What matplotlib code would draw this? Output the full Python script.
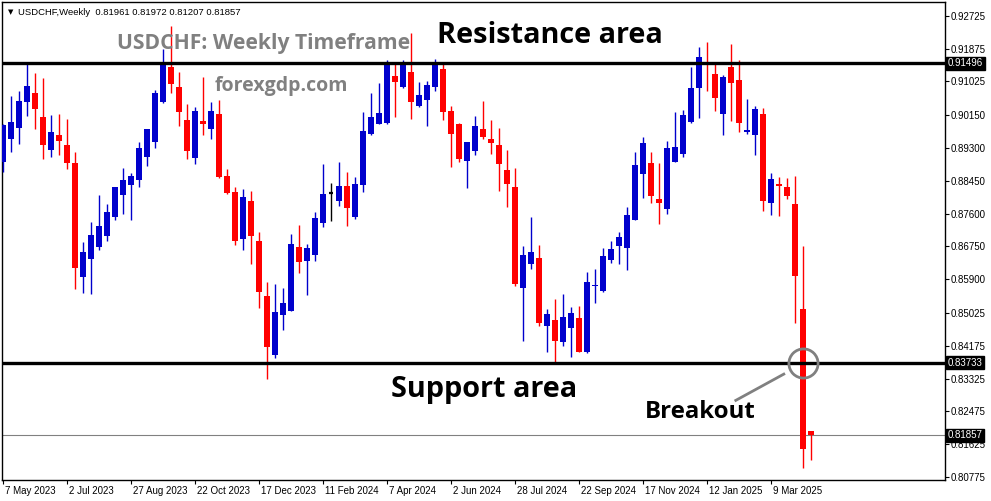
import matplotlib
matplotlib.use("Agg")
import matplotlib.pyplot as plt
import matplotlib.transforms as mtransforms

# weekly USDCHF candles, 7 May 2023 .. 13 Apr 2025
opens = [0.8894, 0.8953, 0.8982, 0.9050, 0.9073, 0.9011, 0.8925, 0.8964, 0.8938, 0.8891,
         0.8596, 0.8643, 0.8674, 0.8702, 0.8752, 0.8809, 0.8835, 0.8848, 0.8907, 0.8946,
         0.9049, 0.9139, 0.9088, 0.9002, 0.8905, 0.9000, 0.8980, 0.9018, 0.8857, 0.8816,
         0.8695, 0.8793, 0.8689, 0.8546, 0.8394, 0.8498, 0.8508, 0.8673, 0.8638, 0.8653,
         0.8736, 0.8812, 0.8793, 0.8831, 0.8752, 0.8835, 0.8966, 0.8993, 0.8995, 0.9117,
         0.9089, 0.9127, 0.9039, 0.9054, 0.9089, 0.9134, 0.9026, 0.8992, 0.8897, 0.8923,
         0.8979, 0.8953, 0.8938, 0.8873, 0.8829, 0.8568, 0.8630, 0.8645, 0.8469, 0.8484,
         0.8428, 0.8464, 0.8489, 0.8400, 0.8571, 0.8560, 0.8640, 0.8677, 0.8672, 0.8744,
         0.8863, 0.8891, 0.8798, 0.8773, 0.8894, 0.8915, 0.8998, 0.9086, 0.9152, 0.9122,
         0.9019, 0.9140, 0.9106, 0.8972, 0.8964, 0.9018, 0.8786, 0.8837, 0.8830, 0.8785,
         0.8513, 0.81961]
highs = [0.8992, 0.9065, 0.9077, 0.9149, 0.9123, 0.9112, 0.9015, 0.9018, 0.9005, 0.8919,
         0.8687, 0.8739, 0.8808, 0.8785, 0.8830, 0.8878, 0.8865, 0.8945, 0.8980, 0.9080,
         0.9186, 0.9246, 0.9127, 0.9044, 0.9036, 0.9114, 0.9049, 0.9054, 0.8875, 0.8829,
         0.8824, 0.8818, 0.8712, 0.8583, 0.8577, 0.8567, 0.8707, 0.8730, 0.8681, 0.8764,
         0.8888, 0.8839, 0.8894, 0.8868, 0.8855, 0.9023, 0.9072, 0.9098, 0.9158, 0.9150,
         0.9158, 0.9228, 0.9101, 0.9103, 0.9160, 0.9150, 0.9039, 0.8995, 0.8946, 0.9013,
         0.9052, 0.9002, 0.8982, 0.8925, 0.8878, 0.8676, 0.8752, 0.8679, 0.8513, 0.8539,
         0.8552, 0.8519, 0.8520, 0.8609, 0.8616, 0.8671, 0.8689, 0.8712, 0.8777, 0.8919,
         0.8958, 0.8919, 0.8891, 0.8948, 0.9023, 0.9028, 0.9140, 0.9191, 0.9204, 0.9150,
         0.9119, 0.9199, 0.9158, 0.9057, 0.9039, 0.9033, 0.8865, 0.8855, 0.8853, 0.8857,
         0.8676, 0.81972]
lows = [0.8868, 0.8920, 0.8940, 0.9013, 0.8979, 0.8901, 0.8907, 0.8912, 0.8875, 0.8565,
        0.8555, 0.8552, 0.8666, 0.8690, 0.8743, 0.8759, 0.8743, 0.8830, 0.8883, 0.8931,
        0.9047, 0.9073, 0.8988, 0.8902, 0.8889, 0.8964, 0.8954, 0.8853, 0.8811, 0.8679,
        0.8666, 0.8630, 0.8514, 0.8332, 0.8387, 0.8459, 0.8507, 0.8607, 0.8550, 0.8638,
        0.8726, 0.8741, 0.8780, 0.8729, 0.8747, 0.8817, 0.8964, 0.8992, 0.8992, 0.9011,
        0.9086, 0.9006, 0.9036, 0.8987, 0.9078, 0.9002, 0.8881, 0.8894, 0.8827, 0.8912,
        0.8954, 0.8915, 0.8819, 0.8778, 0.8573, 0.8431, 0.8617, 0.8469, 0.8400, 0.8376,
        0.8418, 0.8389, 0.8402, 0.8399, 0.8529, 0.8558, 0.8633, 0.8630, 0.8615, 0.8744,
        0.8801, 0.8786, 0.8734, 0.8760, 0.8894, 0.8907, 0.8995, 0.9008, 0.9078, 0.9026,
        0.8964, 0.9001, 0.8972, 0.8967, 0.8912, 0.8767, 0.8757, 0.8754, 0.8798, 0.8477,
        0.8100, 0.81207]
closes = [0.8989, 0.8998, 0.9052, 0.9090, 0.9031, 0.8938, 0.8971, 0.8949, 0.8892, 0.8619,
          0.8660, 0.8704, 0.8728, 0.8764, 0.8829, 0.8847, 0.8857, 0.8930, 0.8979, 0.9072,
          0.9149, 0.9096, 0.9024, 0.8923, 0.9026, 0.8993, 0.9026, 0.8855, 0.8814, 0.8690,
          0.8803, 0.8703, 0.8558, 0.8415, 0.8505, 0.8528, 0.8681, 0.8635, 0.8671, 0.8748,
          0.8811, 0.8812, 0.8831, 0.8775, 0.8837, 0.8974, 0.9010, 0.9021, 0.9153, 0.9102,
          0.9145, 0.9050, 0.9067, 0.9093, 0.9150, 0.9022, 0.8967, 0.8902, 0.8945, 0.8987,
          0.8957, 0.8944, 0.8889, 0.8837, 0.8577, 0.8653, 0.8660, 0.8477, 0.8500, 0.8431,
          0.8492, 0.8502, 0.8402, 0.8583, 0.8575, 0.8650, 0.8668, 0.8699, 0.8756, 0.8886,
          0.8943, 0.8806, 0.8786, 0.8930, 0.8932, 0.9015, 0.9085, 0.9166, 0.9147, 0.9060,
          0.9114, 0.9099, 0.8995, 0.8977, 0.9031, 0.8793, 0.8850, 0.8832, 0.8806, 0.8599,
          0.8149, 0.81857]

date_labels = ["7 May 2023", "2 Jul 2023", "27 Aug 2023", "22 Oct 2023", "17 Dec 2023",
               "11 Feb 2024", "7 Apr 2024", "2 Jun 2024", "28 Jul 2024", "22 Sep 2024",
               "17 Nov 2024", "12 Jan 2025", "9 Mar 2025"]
price_ticks = [0.92725, 0.91875, 0.91025, 0.90150, 0.89300, 0.88450, 0.87600, 0.86750,
               0.85900, 0.85025, 0.84175, 0.83325, 0.82475, 0.81625, 0.80775]
resistance = 0.91496
support = 0.83733
last_price = 0.81857

BLUE = "#0000CC"
RED = "#FF0000"
GREY = "#808080"

fig = plt.figure(figsize=(9.91, 5.01), dpi=100)
ax = fig.add_axes([2 / 991, 21 / 501, 943 / 991, 478 / 501])

n = len(opens)
xs = list(range(n))
for i in xs:
    o, h, l, c = opens[i], highs[i], lows[i], closes[i]
    if c > o:
        col = BLUE
    elif c < o:
        col = RED
    else:
        col = "black"
    ax.vlines(i, l, h, color=col, lw=1.0, zorder=3)
    body = abs(c - o)
    if body < 0.0003:
        ax.hlines((o + c) / 2, i - 0.31, i + 0.31, color=col, lw=1.6, zorder=3)
    else:
        ax.bar(i, body, bottom=min(o, c), width=0.65, color=col, lw=0, zorder=3)

ax.axhline(resistance, color="black", lw=2.4, zorder=4)
ax.axhline(support, color="black", lw=2.4, zorder=4)
ax.axhline(last_price, color=GREY, lw=0.8, zorder=2)

ax.set_xlim(-0.125, 117.75)
ax.set_ylim(0.80697, 0.93080)

ax.yaxis.tick_right()
ax.set_yticks(price_ticks)
ax.set_yticklabels([f"{v:.5f}" for v in price_ticks])
ax.set_xticks(list(range(0, n, 8)))
ax.set_xticklabels(date_labels, ha="left")
ax.tick_params(axis="both", direction="out", length=3, width=0.8, labelsize=7,
               colors="black", pad=1)
for lab in ax.get_xticklabels() + ax.get_yticklabels():
    lab.set_fontfamily("Liberation Sans")
offset = mtransforms.ScaledTranslation(2 / 100, 0, fig.dpi_scale_trans)
for lab in ax.get_xticklabels():
    lab.set_transform(lab.get_transform() + offset)
for sp in ax.spines.values():
    sp.set_linewidth(1.0)

# price boxes on the right axis
tr = mtransforms.blended_transform_factory(ax.transAxes, ax.transData)
for v in [resistance, support, last_price]:
    ax.text(1.003, v, f"{v:.5f}", transform=tr, ha="left", va="center", fontsize=7,
            family="Liberation Sans", color="white", clip_on=False, zorder=6,
            bbox=dict(boxstyle="square,pad=0.15", fc="black", ec="black"))

# header
ax.text(0.006, 0.978, "\u25bc", transform=ax.transAxes, fontsize=5, va="center")
ax.text(0.017, 0.978, "USDCHF,Weekly  0.81961 0.81972 0.81207 0.81857",
        transform=ax.transAxes, fontsize=6.8, family="Liberation Sans", va="center")

# annotations
ax.text(0.122, 0.914, "USDCHF: Weekly Timeframe", transform=ax.transAxes, fontsize=15.2,
        family="Open Sans", weight="bold", color=GREY, va="center", ha="left")
ax.text(0.226, 0.824, "forexgdp.com", transform=ax.transAxes, fontsize=14,
        family="Open Sans", weight="bold", color=GREY, va="center", ha="left")
ax.text(0.461, 0.929, "Resistance area", transform=ax.transAxes, fontsize=20.8,
        family="Open Sans", weight="bold", color="black", va="center", ha="left")
ax.text(0.413, 0.189, "Support area", transform=ax.transAxes, fontsize=20.8,
        family="Open Sans", weight="bold", color="black", va="center", ha="left")
ax.text(0.682, 0.142, "Breakout", transform=ax.transAxes, fontsize=17.3,
        family="Open Sans", weight="bold", color="black", va="center", ha="left")

ax.plot([100], [support], marker="o", ms=21, mfc="none", mec=GREY, mew=2, zorder=5)
ax.plot([97.6, 91.6], [0.8344, 0.8276], color=GREY, lw=2, zorder=5)

fig.savefig("out.png", dpi=100)
